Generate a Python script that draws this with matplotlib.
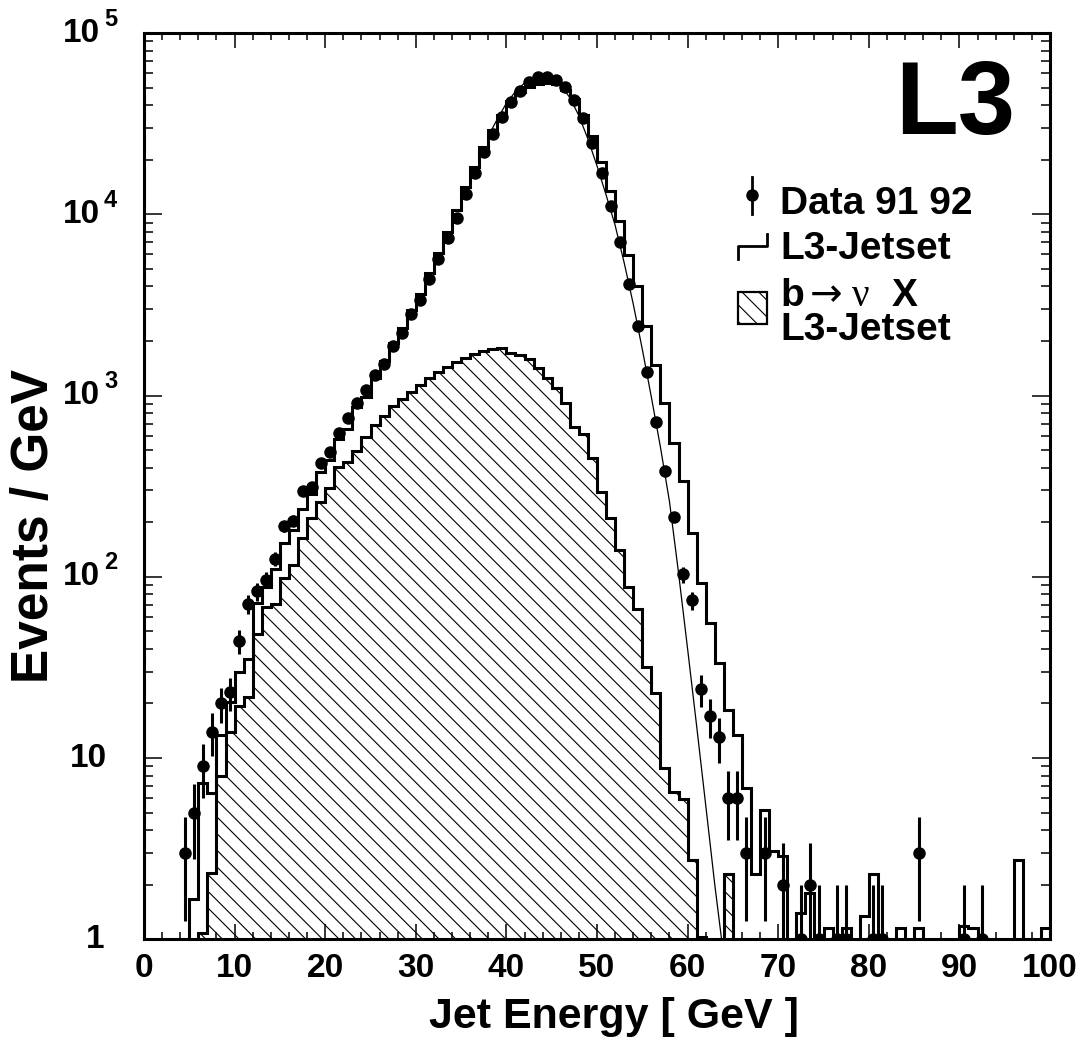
import numpy as np
import matplotlib
matplotlib.use('Agg')
import matplotlib.pyplot as plt
from matplotlib.lines import Line2D
from matplotlib.patches import Rectangle
from matplotlib.ticker import NullFormatter
import matplotlib.transforms as mtransforms

plt.rcParams['font.family'] = ['Liberation Sans', 'DejaVu Sans']
plt.rcParams['font.weight'] = 'bold'
plt.rcParams['hatch.linewidth'] = 0.8

# ---------------- data: 1 GeV bins from 0 to 100 ----------------
edges = np.arange(0, 101, 1)

data_counts = [
    0, 0, 0, 0, 3, 5, 9, 14, 20, 23,
    44, 71, 83, 96, 126, 190, 204, 298, 313, 427,
    489, 618, 755, 915, 1075, 1300, 1490, 1873, 2200, 2800,
    3360, 4370, 5630, 7360, 9570, 12940, 16960, 22000, 27800, 34500,
    41800, 48000, 53800, 57300, 57300, 55000, 50100, 42700, 33800, 24800,
    16950, 11100, 7050, 4120, 2415, 1351, 710, 383, 214, 103,
    74, 24, 17, 13, 6, 6, 3, 0, 3, 0,
    2, 0, 1, 2, 1, 0, 1, 1, 0, 0,
    1, 1, 0, 0, 0, 3, 0, 0, 0, 0,
    1, 0, 1, 0, 0, 0, 0, 0, 0, 0]

mc_total = [
    0, 0, 0, 0, 0, 1.66, 7.3, 6.4, 13.4, 20.5,
    29.9, 35.4, 72, 88, 111, 154, 181, 238, 288, 379,
    440, 579, 650, 867, 984, 1253, 1550, 1950, 2350, 2950,
    3650, 4750, 6120, 8000, 10540, 14100, 18300, 23500, 29000, 35500,
    42000, 47000, 50500, 52500, 53000, 52000, 48500, 43500, 35500, 27000,
    19500, 13480, 9200, 5960, 4020, 2430, 1472, 912, 544, 337,
    175, 92.6, 55.7, 33.5, 18.4, 13.4, 6.8, 2.3, 5.15, 3.06,
    2.87, 0, 1.4, 1.8, 0, 1.15, 0, 1.15, 0, 1.34,
    2.3, 0, 0, 1.15, 0, 1.15, 0, 0, 0, 0,
    1.19, 1.15, 0, 0, 0, 0, 2.73, 0, 0, 1.15]

mc_bnu = [
    0, 0, 0, 0, 0, 0, 1.08, 2.33, 8.0, 14,
    19.3, 21.7, 48.6, 67.7, 70.6, 99, 116, 163, 210, 259,
    307, 401, 430, 495, 587, 686, 770, 870, 960, 1050,
    1150, 1250, 1350, 1440, 1530, 1620, 1700, 1760, 1800, 1820,
    1720, 1670, 1600, 1410, 1253, 1094, 912, 673, 612, 455,
    292, 210, 140, 88, 66, 31.8, 22.9, 8.86, 6.5, 5.98,
    2.73, 1.03, 0, 0, 2.3, 0, 0, 0, 0, 0,
    0, 0, 0, 0, 0, 0, 0, 0, 0, 0,
    0, 0, 0, 0, 0, 0, 0, 0, 0, 0,
    0, 0, 0, 0, 0, 0, 0, 0, 0, 0]

# thin curve along the falling edge
fit_e = [38, 39, 40, 41, 42, 43, 44, 45, 46, 47, 48, 49, 50,
         51, 52, 53, 54, 55, 56, 57, 58, 59, 60, 61, 62, 63, 63.75]
fit_v = [27000, 33500, 41000, 47500, 53000, 56500, 57500, 56000, 51500,
         44000, 35000, 26000, 18500, 12800, 8700, 5400, 3200, 1800, 980,
         520, 260, 105, 40, 15, 5.5, 2.0, 1.0]

xticks = list(range(0, 101, 10))
ydecades = [0, 1, 2, 3, 4, 5]

# ---------------- figure ----------------
W, H = 1081, 1043
fig = plt.figure(figsize=(W / 100, H / 100), dpi=100)
ax = fig.add_axes([144 / W, 1 - 939.3 / H, 906 / W, 906.3 / H])


def px(x, y):
    return x / W, 1 - y / H


def nz(v):
    v = np.asarray(v, dtype=float)
    return np.where(v > 0, v, 1e-3)


ax.set_yscale('log')
ax.stairs(nz(mc_bnu), edges, baseline=1e-3, fill=True, hatch='\\\\',
          facecolor='white', edgecolor='black', linewidth=0)
ax.stairs(nz(mc_bnu), edges, baseline=1e-3, color='black', linewidth=2.2)
ax.stairs(nz(mc_total), edges, baseline=1e-3, color='black', linewidth=2.2)
ax.plot(fit_e, fit_v, color='black', linewidth=0.9)

counts = np.asarray(data_counts, dtype=float)
centers = edges[:-1] + 0.5
m = counts > 0
err = np.sqrt(counts[m])
lo = np.minimum(err, counts[m] - 1e-3)
ax.errorbar(centers[m], counts[m], yerr=[lo, err], fmt='o', color='black',
            markersize=8, elinewidth=2.2, capsize=0)

ax.set_xlim(0, 100)
ax.set_ylim(1, 1e5)

ax.set_xticks(xticks)
ax.set_xticks(np.arange(0, 101, 2), minor=True)
ax.set_xticklabels([str(v) for v in xticks], fontsize=24, fontweight='bold')
ax.set_yticks([10 ** d for d in ydecades])
ax.set_yticks([k * 10 ** d for d in range(5) for k in range(2, 10)], minor=True)
ax.yaxis.set_minor_formatter(NullFormatter())
ax.tick_params(which='both', direction='in', top=True, right=True, width=1.1)
ax.tick_params(axis='x', which='major', length=11, pad=10)
ax.tick_params(axis='x', which='minor', length=5.3)
ax.tick_params(axis='y', which='major', length=12.7)
ax.tick_params(axis='y', which='minor', length=6.3)
ax.tick_params(axis='y', labelleft=False)
for s in ax.spines.values():
    s.set_linewidth(2.2)

# y tick labels in PAW style
ytr = ax.get_yaxis_transform()
for d in ydecades:
    v = 10 ** d
    if d == 0:
        ax.text((104 - 144) / 906, v, '1', transform=ytr, ha='right',
                va='center', fontsize=24, fontweight='bold')
    elif d == 1:
        ax.text((107 - 144) / 906, v, '10', transform=ytr, ha='right',
                va='center', fontsize=24, fontweight='bold')
    else:
        ax.text((100 - 144) / 906, v, '10', transform=ytr, ha='right',
                va='center', fontsize=24, fontweight='bold')
        off = mtransforms.offset_copy(ytr, fig=fig, x=0, y=14, units='dots')
        ax.text((104 - 144) / 906, v, str(d), transform=off, ha='left',
                va='center', fontsize=17, fontweight='bold')

fig.text(*px(614, 1028), 'Jet Energy [ GeV ]', ha='center', va='baseline',
         fontsize=31, fontweight='bold')
fig.text(*px(48, 526), 'Events / GeV', rotation=90, rotation_mode='anchor',
         ha='center', va='baseline', fontsize=37, fontweight='bold')

fig.text(*px(895, 134), 'L3', ha='left', va='baseline', fontsize=74,
         fontweight='bold')

# legend
lx = 780
fig.add_artist(Line2D([752 / W] * 2, [1 - 177 / H, 1 - 214 / H],
                      color='black', lw=2))
fig.add_artist(Line2D([752 / W], [1 - 195 / H], marker='o',
                      markersize=8, color='black'))
fig.text(*px(lx, 214.5), 'Data 91 92', ha='left', va='baseline',
         fontsize=28, fontweight='bold')

sx = np.array([738, 738, 767, 767]) / W
sy = 1 - np.array([259, 245.5, 245.5, 233.5]) / H
fig.add_artist(Line2D(sx, sy, color='black', lw=2))
fig.text(*px(lx, 259.3), 'L3-Jetset', ha='left', va='baseline',
         fontsize=28, fontweight='bold')

fig.add_artist(Rectangle(px(738, 323.5), 29 / W, 32 / H,
                         transform=fig.transFigure, facecolor='white',
                         edgecolor='black', hatch='\\\\', lw=1.6))
fig.text(*px(lx, 305.7), 'b', ha='left', va='baseline', fontsize=28,
         fontweight='bold')
fig.text(*px(810, 305.7), '\u2192', ha='left', va='baseline', fontsize=28,
         fontweight='normal', family='DejaVu Sans')
fig.text(*px(852, 305.7), '\u03bd', ha='left', va='baseline', fontsize=28,
         fontweight='normal', family='Liberation Serif')
fig.text(*px(892, 305.7), 'X', ha='left', va='baseline', fontsize=28,
         fontweight='bold')
fig.text(*px(lx, 339.6), 'L3-Jetset', ha='left', va='baseline',
         fontsize=28, fontweight='bold')

fig.savefig('out.png', dpi=100)
